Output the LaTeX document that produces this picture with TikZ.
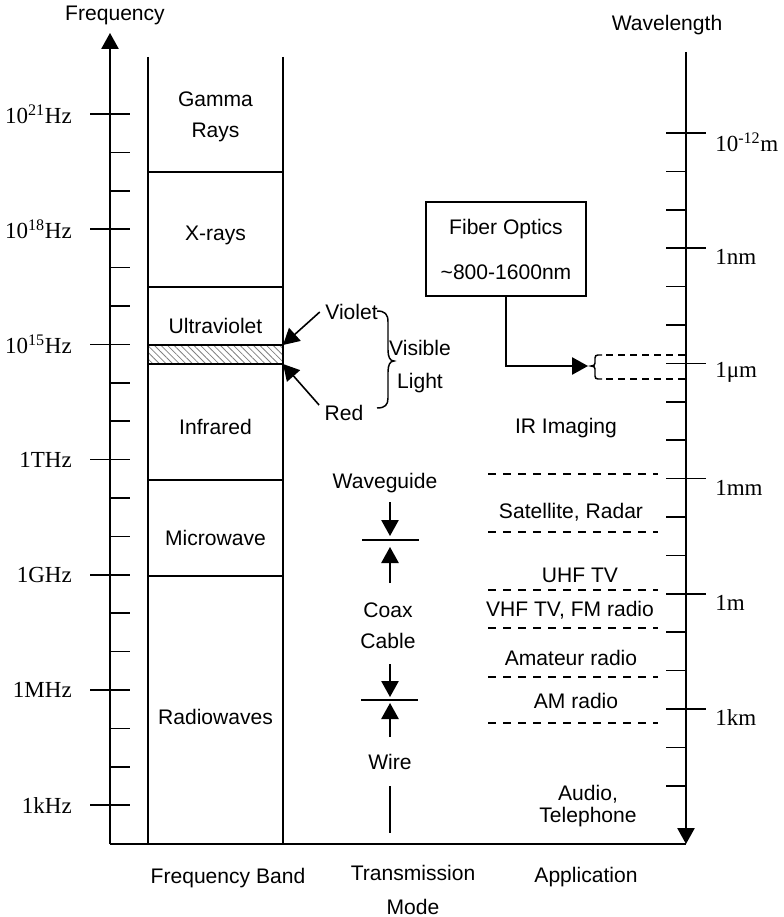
\documentclass[tikz,border=0pt]{standalone}
\usepackage{fontspec}
\setmainfont{Liberation Sans}
\newfontfamily\tms{Liberation Serif}
\usetikzlibrary{arrows.meta,patterns.meta}
\begin{document}
\begin{tikzpicture}[x=0.75pt,y=-0.75pt,
  ln/.style={line width=1.2pt},
  thin ln/.style={line width=1.1pt},
  lbl/.style={inner sep=0pt, font=\fontsize{15.8}{23.25}\selectfont, align=center},
  tlbl/.style={inner sep=0pt, font=\tms\fontsize{17.25}{20}\selectfont},
  tip/.style={-{Triangle[width=13pt,length=12pt]}},
  dsh/.style={line width=1.1pt, dash pattern=on 6pt off 5.25pt},
  fdsh/.style={line width=1.1pt, dash pattern=on 5pt off 4pt},
]
\useasboundingbox (0,0) rectangle (783,917);

% ---------- frequency axis ----------
\coordinate (fbot) at (110,844);
\coordinate (ftop) at (110,33);
\draw[ln,tip] (fbot) -- (ftop);
\node[lbl] (freq) at (115,15) {Frequency};
\foreach \i in {0,...,18} {\draw[ln] (110,{114+38.4*\i}) -- (130,{114+38.4*\i});}
\foreach \i/\t in {0/{10\textsuperscript{21}Hz},3/{10\textsuperscript{18}Hz},6/{10\textsuperscript{15}Hz},9/{1THz},12/{1GHz},15/{1MHz},18/{1kHz}} {
  \draw[ln] (90,{114+38.4*\i}) -- (110,{114+38.4*\i});
  \node[tlbl,anchor=east] (fl\i) at (72,{114+38.4*\i}) {\t};
}

% ---------- wavelength axis ----------
\coordinate (wtop) at (686,52);
\coordinate (wbot) at (686,844);
\draw[ln,tip] (wtop) -- (wbot);
\draw[ln] (fbot) -- (wbot);
\node[lbl] (wave) at (667,25) {Wavelength};
\foreach \i in {0,...,17} {\draw[ln] (666,{133+38.4*\i}) -- (686,{133+38.4*\i});}
\foreach \i/\t in {0/{10\textsuperscript{-12}m},3/{1nm},6/{1μm},9/{1mm},12/{1m},15/{1km}} {
  \draw[ln] (686,{133+38.4*\i}) -- (706,{133+38.4*\i});
  \node[tlbl,anchor=west] (wl\i) at (715,{142+38.4*\i}) {\t};
}

% ---------- frequency band column ----------
\fill[pattern={Lines[angle=-45,distance=3.5pt,line width=0.6pt]},pattern color=gray] (148,345) rectangle (283,364);
\draw[ln] (148,57) -- (148,844);
\draw[ln] (283,57) -- (283,844);
\foreach \y in {172,287,345,364,480,576} {\draw[ln] (148,\y) -- (283,\y);}
\node[lbl] (gamma) at (215.5,117) {Gamma\\Rays};
\node[lbl] (xray) at (215.5,235) {X-rays};
\node[lbl] (uv) at (215.5,326) {Ultraviolet};
\node[lbl] (ir) at (215.5,427) {Infrared};
\node[lbl] (mw) at (215.5,538) {Microwave};
\node[lbl] (radio) at (215.5,717) {Radiowaves};
\node[lbl] (fband) at (228,878) {Frequency Band};

% visible light
\coordinate (vtop) at (283,345);
\coordinate (vbot) at (283,364);
\node[lbl] (violet) at (351.5,312) {Violet};
\node[lbl] (red) at (344,413) {Red};
\node[lbl,font=\fontsize{15.8}{24.75}\selectfont] (visible) at (420,367) {Visible\\Light};
\draw[ln,tip] ([xshift=-4pt]violet.west) -- (vtop);
\draw[ln,tip] ([xshift=-4pt,yshift=6pt]red.west) -- (vbot);
\draw[thin ln] (377,311) .. controls (385,311) and (388,314) .. (388,322) -- (388,350)
  .. controls (388,357) and (390,361) .. (394,361)
  .. controls (390,361) and (388,365) .. (388,372) -- (388,398)
  .. controls (388,405) and (385,408) .. (377,408);

% ---------- fiber optics ----------
\node[draw,ln,inner sep=0pt,minimum width=120pt,minimum height=70.5pt,align=center,
  font=\fontsize{15.8}{33.75}\selectfont] (fiber) at (506,249) {Fiber Optics\\\textasciitilde800-1600nm};
\coordinate (fbr) at (588,366);
\draw[ln,tip] (fiber.south) |- (fbr);
\draw[thin ln] (602,355) -- (598,355) .. controls (596,355) and (595,356) .. (595,358) -- (595,363)
  .. controls (595,365) and (594,366) .. (591,366)
  .. controls (594,366) and (595,367) .. (595,369) -- (595,376)
  .. controls (595,378) and (596,379) .. (598,379) -- (602,379);
\draw[fdsh] (606,355) -- (686,355);
\draw[fdsh] (606,379) -- (686,379);

% ---------- transmission mode ----------
\node[lbl] (wg) at (385,483) {Waveguide};
\coordinate (wga) at (390,502);
\coordinate (wgb) at (390,536);
\draw[ln,tip] (wga) -- (wgb);
\draw[ln] (362,540) -- (419,540);
\coordinate (cxa) at (390,583);
\coordinate (cxb) at (390,547);
\draw[ln,tip] (cxa) -- (cxb);
\node[lbl] (coax) at (388,626) {Coax\\Cable};
\coordinate (cxc) at (390,664);
\coordinate (cxd) at (390,697);
\draw[ln,tip] (cxc) -- (cxd);
\draw[ln] (361,700) -- (418,700);
\coordinate (wra) at (390,737);
\coordinate (wrb) at (390,703);
\draw[ln,tip] (wra) -- (wrb);
\node[lbl] (wire) at (390,762) {Wire};
\draw[ln] (390,786) -- (390,833);
\node[lbl,font=\fontsize{15.8}{25.5}\selectfont] (tmode) at (413,890) {Transmission\\Mode};

% ---------- application ----------
\node[lbl] (irimg) at (566,428) {IR Imaging};
\foreach \y in {474,532,590,628,677,723} {\draw[dsh] (488,\y) -- (658,\y);}
\node[lbl] (sat) at (571,512) {Satellite, Radar};
\node[lbl] (uhf) at (580,575) {UHF TV};
\node[lbl] (vhf) at (570,610) {VHF TV, FM radio};
\node[lbl] (amat) at (571,658) {Amateur radio};
\node[lbl] (am) at (576,701) {AM radio};
\node[lbl,font=\fontsize{15.8}{16.5}\selectfont] (audio) at (588,806) {Audio,\\Telephone};
\node[lbl] (app) at (586,877) {Application};
\end{tikzpicture}
\end{document}
